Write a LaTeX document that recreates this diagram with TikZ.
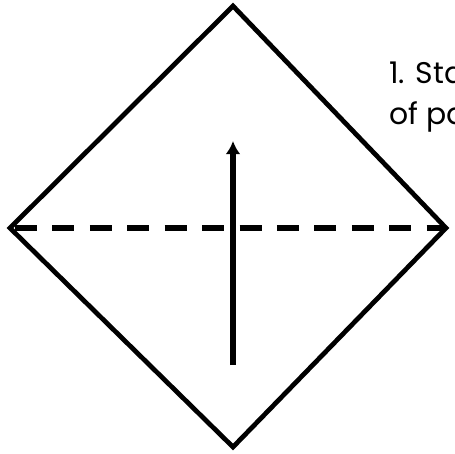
\documentclass[tikz,border=0pt]{standalone}
\usepackage{fontspec}
\setmainfont{Poppins}
\usetikzlibrary{arrows.meta}
\begin{document}
\begin{tikzpicture}[x=0.02cm,y=-0.02cm]
\useasboundingbox (0,0) rectangle (455,453);
\coordinate (top) at (233,6);
\coordinate (right) at (446,228);
\coordinate (bottom) at (233,447);
\coordinate (left) at (10,228);
\draw[line width=2.7pt,line join=miter] (top) -- (right) -- (bottom) -- (left) -- cycle;

\coordinate (foldstart) at (15,228);
\draw[line width=2.9pt,dash pattern=on 12.5pt off 8.8pt] (foldstart) -- (right);

\coordinate (tail) at (233,365);
\coordinate (head) at (233,141);
\draw[line width=3.1pt,-{Latex[length=7.5pt,width=8.5pt]}] (tail) -- (head);

\node[anchor=north west,inner sep=0pt,align=left,font=\fontsize{17}{23}\selectfont] (step) at (389,62) {1. Sta\\of pa};
\end{tikzpicture}
\end{document}
